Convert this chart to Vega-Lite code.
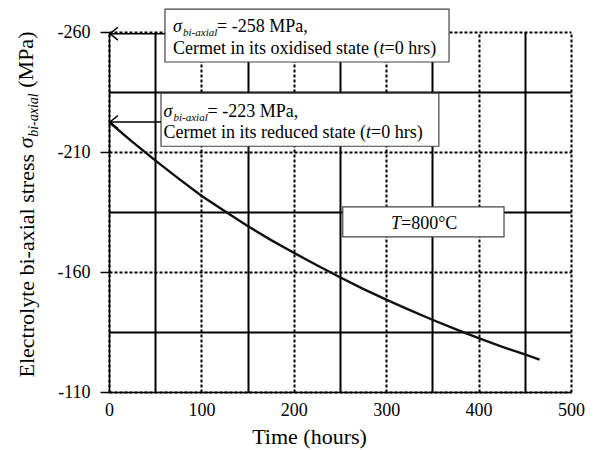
{
  "$schema": "https://vega.github.io/schema/vega-lite/v6.json",
  "width": 462,
  "height": 360,
  "autosize": "none",
  "padding": {"left": 109, "top": 32, "right": 23, "bottom": 58},
  "background": "white",
  "config": {
    "view": {"stroke": null},
    "font": "Liberation Serif",
    "axis": {
      "labelFont": "Liberation Serif", "labelFontSize": 18, "labelColor": "#000", "labelFontWeight": "normal",
      "titleFont": "Liberation Serif", "titleFontSize": 22, "titleFontWeight": "normal", "titleColor": "#000",
      "domainColor": "#000", "domainWidth": 1.5, "tickColor": "#000",
      "gridColor": "#000", "gridOpacity": 1
    },
    "text": {"font": "Liberation Serif", "color": "#000", "fontSize": 18, "align": "left", "baseline": "alphabetic"}
  },
  "layer": [
    {
      "data": {"values": [
        {"t": 0, "s": -222.5}, {"t": 25, "s": -214.3}, {"t": 50, "s": -206.5}, {"t": 75, "s": -199},
        {"t": 100, "s": -191.8}, {"t": 125, "s": -185.4}, {"t": 150, "s": -179.2}, {"t": 175, "s": -173.4},
        {"t": 200, "s": -168}, {"t": 225, "s": -162.8}, {"t": 250, "s": -157.8}, {"t": 275, "s": -153},
        {"t": 300, "s": -148.5}, {"t": 325, "s": -144.2}, {"t": 350, "s": -140.1}, {"t": 375, "s": -136.2},
        {"t": 400, "s": -132.4}, {"t": 425, "s": -128.9}, {"t": 450, "s": -125.7}, {"t": 466, "s": -123.5}
      ]},
      "mark": {"type": "line", "color": "#111", "strokeWidth": 2.4},
      "encoding": {
        "x": {"field": "t", "type": "quantitative",
          "scale": {"domain": [0, 500], "nice": false, "zero": false},
          "axis": {
            "values": [0, 50, 100, 150, 200, 250, 300, 350, 400, 450, 500],
            "grid": true, "gridWidth": 2,
            "gridDash": {"condition": {"test": "datum.value % 100 === 0", "value": [3, 2]}, "value": []},
            "labelExpr": "datum.value % 100 === 0 ? datum.label : ''",
            "labelFont": "Liberation Serif", "labelFontSize": 18, "labelColor": "#000", "labelFontWeight": "normal",
            "ticks": false, "tickSize": 0, "labelPadding": 9, "labelOverlap": false, "labelFlush": false,
            "title": "Time (hours)", "titleX": 200, "titleY": 51, "titleAlign": "center", "titleBaseline": "alphabetic",
            "titleFont": "Liberation Serif", "titleFontSize": 22, "titleFontWeight": "normal"
          }
        },
        "y": {"field": "s", "type": "quantitative",
          "scale": {"domain": [-260, -110], "reverse": true, "nice": false, "zero": false},
          "axis": {
            "values": [-260, -235, -210, -185, -160, -135, -110],
            "grid": true, "gridWidth": 2,
            "gridDash": {"condition": {"test": "(datum.value + 260) % 50 === 0", "value": [3, 2]}, "value": []},
            "labelExpr": "(datum.value + 260) % 50 === 0 ? '-' + abs(datum.value) : ''",
            "labelFont": "Liberation Serif", "labelFontSize": 18, "labelColor": "#000", "labelFontWeight": "normal",
            "tickSize": 9, "tickWidth": 1.5,
            "tickOpacity": {"condition": {"test": "(datum.value + 260) % 50 === 0", "value": 1}, "value": 0},
            "labelPadding": 10, "labelOverlap": false, "labelFlush": false,
            "title": "Electrolyte bi-axial stress", "titleAngle": 270, "titleAlign": "left", "titleBaseline": "alphabetic",
            "titleX": -76, "titleY": 345, "titleFont": "Liberation Serif", "titleFontSize": 22, "titleFontWeight": "normal"
          }
        }
      }
    },
    {
      "data": {"values": [{}]},
      "layer": [
        {"mark": {"type": "rect", "fill": "white", "stroke": "#444", "strokeWidth": 1.2},
         "encoding": {"x": {"datum": 60.6}, "x2": {"datum": 368}, "y": {"datum": -269.5}, "y2": {"datum": -247.5}}},
        {"mark": {"type": "rect", "fill": "white", "stroke": "#444", "strokeWidth": 1.2},
         "encoding": {"x": {"datum": 56.3}, "x2": {"datum": 357}, "y": {"datum": -234.5}, "y2": {"datum": -212.4}}},
        {"mark": {"type": "rect", "fill": "white", "stroke": "#444", "strokeWidth": 1.2},
         "encoding": {"x": {"datum": 253}, "x2": {"datum": 427.5}, "y": {"datum": -187.1}, "y2": {"datum": -174.6}}},

        {"mark": {"type": "rule", "stroke": "#000", "strokeWidth": 1.5},
         "encoding": {"x": {"datum": 1}, "x2": {"datum": 60.6}, "y": {"datum": -259.3}}},
        {"mark": {"type": "rule", "stroke": "#000", "strokeWidth": 1.5},
         "encoding": {"x": {"datum": 1}, "x2": {"datum": 56.3}, "y": {"datum": -222.5}}},
        {"mark": {"type": "point", "shape": "M0,0L1,-0.8M0,0L1,0.8", "size": 256, "filled": false, "stroke": "#000", "strokeWidth": 1.5, "opacity": 1},
         "encoding": {"x": {"datum": 1}, "y": {"datum": -259.3}}},
        {"mark": {"type": "point", "shape": "M0,0L1,-0.8M0,0L1,0.8", "size": 256, "filled": false, "stroke": "#000", "strokeWidth": 1.5, "opacity": 1},
         "encoding": {"x": {"datum": 1}, "y": {"datum": -222.5}}},

        {"mark": {"type": "text", "text": "σ", "fontStyle": "italic", "fontSize": 18},
         "encoding": {"x": {"datum": 69.3}, "y": {"datum": -259.9}}},
        {"mark": {"type": "text", "text": "bi-axial", "fontStyle": "italic", "fontSize": 11, "dx": 10, "dy": 4},
         "encoding": {"x": {"datum": 69.3}, "y": {"datum": -259.9}}},
        {"mark": {"type": "text", "text": "= -258 MPa,", "fontSize": 18, "dx": 44},
         "encoding": {"x": {"datum": 69.3}, "y": {"datum": -259.9}}},
        {"mark": {"type": "text", "text": "Cermet in its oxidised state (", "fontSize": 18},
         "encoding": {"x": {"datum": 69.3}, "y": {"datum": -250.7}}},
        {"mark": {"type": "text", "text": "t", "fontStyle": "italic", "fontSize": 18, "dx": 206.5},
         "encoding": {"x": {"datum": 69.3}, "y": {"datum": -250.7}}},
        {"mark": {"type": "text", "text": "=0 hrs)", "fontSize": 18, "dx": 211.5},
         "encoding": {"x": {"datum": 69.3}, "y": {"datum": -250.7}}},

        {"mark": {"type": "text", "text": "σ", "fontStyle": "italic", "fontSize": 18},
         "encoding": {"x": {"datum": 59}, "y": {"datum": -224.7}}},
        {"mark": {"type": "text", "text": "bi-axial", "fontStyle": "italic", "fontSize": 11, "dx": 10, "dy": 4},
         "encoding": {"x": {"datum": 59}, "y": {"datum": -224.7}}},
        {"mark": {"type": "text", "text": "= -223 MPa,", "fontSize": 18, "dx": 44},
         "encoding": {"x": {"datum": 59}, "y": {"datum": -224.7}}},
        {"mark": {"type": "text", "text": "Cermet in its reduced state (", "fontSize": 18},
         "encoding": {"x": {"datum": 59}, "y": {"datum": -215.7}}},
        {"mark": {"type": "text", "text": "t", "fontStyle": "italic", "fontSize": 18, "dx": 202.5},
         "encoding": {"x": {"datum": 59}, "y": {"datum": -215.7}}},
        {"mark": {"type": "text", "text": "=0 hrs)", "fontSize": 18, "dx": 207.5},
         "encoding": {"x": {"datum": 59}, "y": {"datum": -215.7}}},

        {"mark": {"type": "text", "text": "T", "fontStyle": "italic", "fontSize": 18},
         "encoding": {"x": {"datum": 305.2}, "y": {"datum": -177.8}}},
        {"mark": {"type": "text", "text": "=800°C", "fontSize": 18, "dx": 10},
         "encoding": {"x": {"datum": 305.2}, "y": {"datum": -177.8}}},

        {"mark": {"type": "text", "text": "σ", "fontStyle": "italic", "fontSize": 22, "angle": 270, "dx": 229},
         "encoding": {"x": {"datum": -82.3}, "y": {"datum": -116.1}}},
        {"mark": {"type": "text", "text": "bi-axial", "fontStyle": "italic", "fontSize": 14, "angle": 270, "dx": 240.5, "dy": 5},
         "encoding": {"x": {"datum": -82.3}, "y": {"datum": -116.1}}},
        {"mark": {"type": "text", "text": "(MPa)", "fontSize": 22, "angle": 270, "dx": 289.6},
         "encoding": {"x": {"datum": -82.3}, "y": {"datum": -116.1}}}
      ]
    }
  ]
}
